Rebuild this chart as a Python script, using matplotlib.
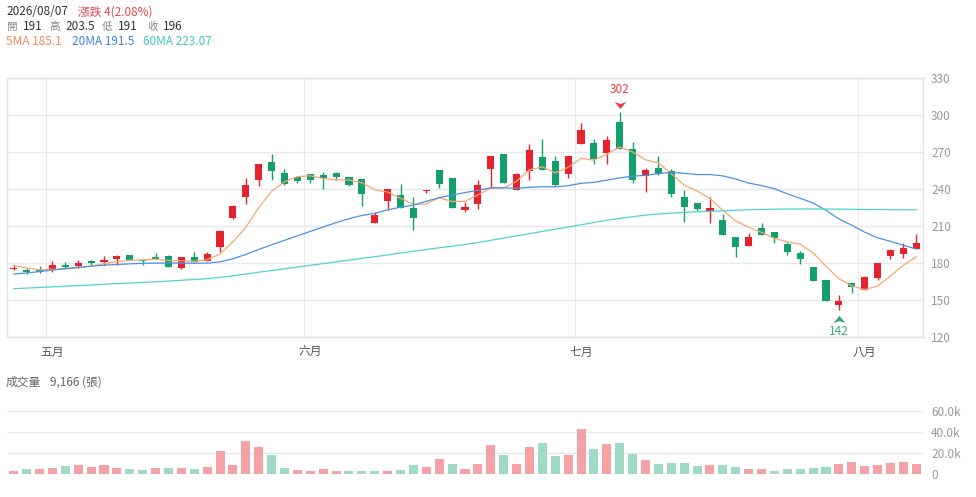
import numpy as np
import matplotlib
matplotlib.use("Agg")
import matplotlib.pyplot as plt
from matplotlib.path import Path
from matplotlib.transforms import offset_copy
from matplotlib.ticker import FuncFormatter

plt.rcParams['font.family'] = ['Noto Sans CJK TC', 'DejaVu Sans']

# 日K資料 (2026/04/28 ~ 2026/08/07)
last_date = '2026/08/07'
opens = [175.0, 174.6, 174.6, 174.1, 178.7, 177.8, 181.8, 180.8, 183.0, 186.7,
         182.7, 184.9, 185.9, 176.0, 185.1, 181.9, 192.9, 216.8, 233.5, 247.3,
         262.1, 252.7, 250.0, 251.9, 251.3, 253.2, 249.4, 247.8, 212.5, 230.0,
         234.9, 224.6, 238.3, 255.1, 248.6, 222.7, 228.0, 256.3, 268.4, 239.5,
         254.4, 266.0, 262.2, 251.7, 276.7, 277.0, 268.7, 294.0, 271.9, 250.1,
         257.1, 254.4, 233.6, 228.9, 222.2, 214.9, 201.4, 194.1, 208.1, 204.9,
         195.4, 188.4, 176.8, 166.0, 146.5, 163.8, 158.6, 167.6, 185.7, 187.6,
         191.0]
highs = [178.4, 175.7, 177.8, 181.3, 180.8, 182.2, 182.4, 185.4, 186.5, 186.7,
         182.7, 188.4, 186.7, 185.1, 188.6, 188.6, 206.4, 227.0, 248.9, 260.5,
         268.6, 255.9, 250.5, 252.4, 253.5, 254.0, 250.0, 248.4, 221.1, 240.0,
         244.0, 233.8, 239.5, 255.1, 248.6, 229.2, 247.6, 266.8, 268.4, 253.0,
         276.5, 280.0, 266.8, 267.0, 293.5, 280.0, 282.7, 302.0, 277.8, 257.1,
         266.5, 255.7, 239.0, 228.9, 233.8, 220.0, 201.4, 204.0, 212.2, 204.9,
         197.3, 190.0, 176.8, 166.0, 154.6, 163.8, 169.2, 179.7, 191.1, 196.5,
         203.5]
lows = [174.1, 171.4, 172.0, 173.0, 176.0, 175.7, 178.4, 178.1, 178.7, 182.2,
        178.1, 183.2, 176.5, 175.2, 180.8, 181.6, 188.6, 216.0, 227.6, 242.4,
        247.5, 243.5, 244.9, 245.1, 240.0, 247.5, 242.2, 226.5, 212.5, 223.3,
        224.9, 206.6, 236.9, 240.5, 224.4, 221.4, 223.9, 240.9, 244.4, 239.5,
        247.1, 254.9, 242.2, 249.2, 276.7, 260.0, 260.0, 271.9, 244.9, 237.4,
        251.1, 233.6, 213.1, 222.2, 212.7, 202.4, 185.1, 194.1, 203.0, 196.0,
        186.5, 178.9, 165.7, 149.2, 142.0, 155.7, 158.1, 166.2, 183.5, 184.0,
        191.0]
closes = [176.0, 172.7, 172.7, 178.1, 176.8, 180.0, 180.3, 182.4, 185.9, 182.7,
          181.6, 183.2, 177.0, 185.1, 180.8, 187.5, 206.1, 226.5, 243.5, 260.5,
          254.3, 244.3, 246.7, 247.3, 249.2, 249.7, 243.0, 236.0, 218.7, 240.0,
          224.9, 216.8, 239.2, 243.8, 224.4, 225.2, 242.8, 266.8, 244.4, 251.7,
          271.3, 254.9, 242.8, 267.0, 287.5, 263.8, 279.2, 272.0, 247.1, 255.2,
          251.7, 235.5, 225.5, 224.0, 224.3, 203.0, 193.0, 200.8, 203.0, 200.0,
          189.2, 183.5, 165.7, 149.2, 149.2, 160.3, 168.6, 179.7, 190.5, 192.0,
          196.0]
volumes = [2900, 4500, 4500, 5200, 7100, 8100, 6800, 8100, 5800, 4500,
           3900, 5200, 5800, 5800, 4200, 6800, 21900, 8700, 31600, 25200,
           18100, 5800, 3200, 2900, 4200, 2300, 2300, 2600, 2900, 2300,
           3200, 8100, 6100, 13900, 9400, 4800, 9400, 27400, 17700, 9000,
           25500, 29700, 17100, 17700, 42900, 23500, 28100, 29400, 18700, 13200,
           9700, 10000, 10000, 7700, 8100, 8700, 6800, 4800, 4500, 2900,
           4200, 4800, 5500, 6100, 9400, 11000, 7700, 8100, 10300, 11300,
           9166]

ma5 = [178.1, 176.0, 174.6, 174.9, 175.3, 176.1, 177.6, 179.6, 181.1, 182.3,
       182.6, 183.2, 182.1, 181.9, 181.5, 182.7, 187.3, 197.2, 208.9, 224.8,
       238.2, 245.8, 249.9, 250.6, 248.4, 247.4, 247.2, 245.0, 239.3, 237.5,
       232.5, 227.3, 227.9, 232.9, 229.8, 229.9, 235.1, 240.6, 240.7, 246.2,
       255.4, 257.8, 253.0, 257.5, 264.7, 263.2, 268.1, 273.9, 269.9, 263.5,
       261.0, 252.3, 243.0, 238.4, 232.2, 222.5, 214.0, 209.0, 204.8, 200.0,
       197.2, 195.3, 188.3, 177.5, 167.4, 161.6, 158.6, 161.4, 169.7, 178.2,
       185.1]
ma20 = [171.1, 172.0, 173.2, 174.4, 175.6, 176.6, 177.5, 178.3, 178.9, 179.4,
        179.8, 180.0, 180.0, 180.0, 179.9, 180.0, 181.0, 183.5, 187.0, 191.0,
        194.8, 198.4, 202.1, 205.6, 209.2, 212.7, 215.9, 218.5, 220.2, 223.1,
        225.2, 226.9, 230.0, 232.9, 235.1, 237.0, 238.8, 240.9, 240.9, 240.5,
        241.3, 241.8, 241.6, 242.6, 244.5, 245.3, 247.1, 248.9, 250.3, 251.0,
        252.4, 253.3, 252.6, 251.6, 251.6, 250.5, 248.0, 244.7, 242.7, 240.1,
        236.0, 232.4, 228.6, 222.7, 215.7, 210.6, 205.0, 200.4, 197.6, 194.4,
        191.5]
ma60 = [159.3, 159.8, 160.3, 160.8, 161.3, 161.8, 162.3, 162.9, 163.4, 163.9,
        164.4, 164.9, 165.5, 166.1, 166.7, 167.4, 168.5, 169.8, 171.2, 172.6,
        174.0, 175.4, 176.8, 178.2, 179.6, 181.0, 182.4, 183.8, 185.2, 186.6,
        188.1, 189.6, 191.0, 192.4, 193.7, 195.0, 196.6, 198.4, 200.2, 202.0,
        203.8, 205.6, 207.4, 209.2, 211.0, 212.8, 214.6, 216.2, 217.5, 218.8,
        219.7, 220.4, 221.0, 221.5, 221.9, 222.3, 222.7, 223.1, 223.4, 223.6,
        223.7, 223.8, 223.8, 223.7, 223.6, 223.5, 223.4, 223.3, 223.2, 223.1,
        223.07]

month_start = [3, 23, 44, 66]
month_labels = ['五月', '六月', '七月', '八月']

RED = '#e5222e'
GREEN = '#14a06e'
RED_VOL = '#f4a2a6'
GREEN_VOL = '#a0d9c5'
GRID = '#e8e8f0'

o = np.array(opens)
h = np.array(highs)
l = np.array(lows)
c = np.array(closes)
v = np.array(volumes)
x = np.arange(len(c))

W, H = 976, 497


def fx(px):
    return px / W


def fy(py):
    return 1 - py / H


fig = plt.figure(figsize=(W / 100, H / 100), dpi=100)
fig.patch.set_facecolor('white')

ax = fig.add_axes([fx(7.3), fy(337.3), 915.4 / W, 259.7 / H])
axv = fig.add_axes([fx(7.3), fy(473.7), 915.4 / W, 62.4 / H], sharex=ax)

# K線
up = c >= o
col = np.where(up, RED, GREEN)
ax.vlines(x, l, h, colors=col, linewidth=1, zorder=2)
body = np.maximum(np.abs(c - o), 0.7)
ax.bar(x, body, bottom=np.minimum(o, c), width=0.55, color=col, linewidth=0, zorder=2)

ax.plot(x, ma5, color='#f6a76e', lw=0.9, zorder=3)
ax.plot(x, ma20, color='#4a92e2', lw=0.9, zorder=3)
ax.plot(x, ma60, color='#4fd3d3', lw=0.9, zorder=3)

# 最高 / 最低 標記
down_mark = Path([(-1, 0.62), (0, -0.62), (1, 0.62), (0, 0.25), (-1, 0.62)],
                 [Path.MOVETO, Path.LINETO, Path.LINETO, Path.LINETO, Path.CLOSEPOLY])
up_mark = Path([(-1, -0.62), (0, 0.62), (1, -0.62), (0, -0.25), (-1, -0.62)],
               [Path.MOVETO, Path.LINETO, Path.LINETO, Path.LINETO, Path.CLOSEPOLY])
imax = int(np.argmax(h))
imin = int(np.argmin(l))
ax.plot(imax, h[imax], marker=down_mark, ms=8.5, color='#e8404a', mew=0,
        transform=offset_copy(ax.transData, fig=fig, y=7 * 0.72, units='points'))
ax.text(imax, h[imax], f'{h[imax]:g}', color='#e8404a', fontsize=8.5, ha='center', va='center',
        transform=offset_copy(ax.transData, fig=fig, y=23 * 0.72, units='points'))
ax.plot(imin, l[imin], marker=up_mark, ms=8.5, color='#2ea677', mew=0,
        transform=offset_copy(ax.transData, fig=fig, y=-8.5 * 0.72, units='points'))
ax.text(imin, l[imin], f'{l[imin]:g}', color='#3aa97c', fontsize=8.5, ha='center', va='center',
        transform=offset_copy(ax.transData, fig=fig, y=-21.5 * 0.72, units='points'))

ax.set_xlim(-0.5, len(c) - 0.5)
ax.set_ylim(120, 330)
ax.set_yticks(range(120, 331, 30))
ax.yaxis.tick_right()
ax.grid(axis='y', color=GRID, lw=1)
for m in month_start:
    ax.axvline(m - 0.5, color=GRID, lw=0.8, zorder=0)
ax.set_xticks(month_start)
ax.set_xticklabels(month_labels)
ax.tick_params(axis='x', length=0, pad=6, labelsize=8.5, labelcolor='#555555')
ax.tick_params(axis='y', length=0, pad=6, labelsize=8.5, labelcolor='#999999')
for s in ax.spines.values():
    s.set_color('#e2e4ec')
    s.set_linewidth(1)
ax.set_axisbelow(True)

# 成交量
vol_up = np.r_[True, np.diff(c) >= 0]
axv.bar(x, v, width=0.7, color=np.where(vol_up, RED_VOL, GREEN_VOL), linewidth=0, zorder=2)
axv.set_ylim(0, 60000)
axv.set_yticks([0, 20000, 40000, 60000])
axv.yaxis.set_major_formatter(FuncFormatter(lambda val, pos: '0' if val == 0 else f'{val / 1000:.1f}k'))
axv.yaxis.tick_right()
axv.grid(axis='y', color=GRID, lw=1)
axv.grid(axis='x', visible=False)
axv.tick_params(axis='y', length=0, pad=6, labelsize=8.5, labelcolor='#999999')
axv.tick_params(axis='x', bottom=False, labelbottom=False)
for s in axv.spines.values():
    s.set_visible(False)
axv.set_axisbelow(True)

# 表頭文字
chg = c[-1] - c[-2]
pct = chg / c[-2] * 100
fs = 8.5
fig.text(fx(6), fy(11.7), last_date, color='#333333', fontsize=fs, va='center')
fig.text(fx(78), fy(11.7), f'漲跌 {chg:g}({pct:.2f}%)', color='#e8454f', fontsize=fs, va='center')

row2 = [('開', f'{o[-1]:g}', 6, 23), ('高', f'{h[-1]:g}', 49, 65),
        ('低', f'{l[-1]:g}', 102, 118), ('收', f'{c[-1]:g}', 147, 163)]
for lab, val, x1, x2 in row2:
    fig.text(fx(x1), fy(26.7), lab, color='#888888', fontsize=7.6, va='center')
    fig.text(fx(x2), fy(26.7), val, color='#333333', fontsize=fs, va='center')

fig.text(fx(6), fy(41.7), f'5MA {ma5[-1]:g}', color='#f08f5c', fontsize=fs, va='center')
fig.text(fx(72), fy(41.7), f'20MA {ma20[-1]:g}', color='#3f82e0', fontsize=fs, va='center')
fig.text(fx(143), fy(41.7), f'60MA {ma60[-1]:g}', color='#3fc9c9', fontsize=fs, va='center')

fig.text(fx(6), fy(382), '成交量', color='#666666', fontsize=fs, va='center')
fig.text(fx(50), fy(382), f'{v[-1]:,} (張)', color='#666666', fontsize=fs, va='center')

fig.savefig('out.png', dpi=100, facecolor='white')
